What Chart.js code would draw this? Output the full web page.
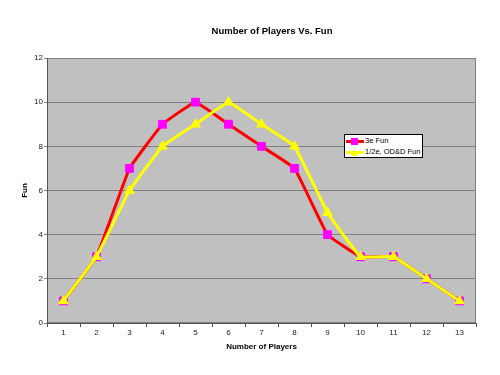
<!DOCTYPE html>
<html lang="en">
<head>
<meta charset="UTF-8">
<title>Number of Players Vs. Fun</title>
<script src="https://cdn.jsdelivr.net/npm/chart.js"></script>
<style>
    body {
        margin: 0;
        background: #fff;
        font-family: 'Liberation Sans', Arial, sans-serif;
    }
    .wrap {
        position: relative;
        width: 500px;
        height: 375px;
    }
    .title {
        position: absolute;
        left: 172px;
        width: 200px;
        top: 25px;
        text-align: center;
        font-size: 9.5px;
        font-weight: bold;
        color: #000;
    }
    .legend {
        position: absolute;
        left: 344px;
        top: 134px;
        width: 77px;
        height: 22px;
        background: #fff;
        border: 1px solid #000;
        font-size: 7.5px;
        color: #000;
    }
    .legend-row {
        position: relative;
        height: 10px;
        line-height: 10px;
        margin-top: 1px;
        padding-left: 20px;
        white-space: nowrap;
    }
    .legend-line {
        position: absolute;
        left: 1px;
        top: 4px;
        width: 18px;
        height: 3px;
    }
    .legend-mark {
        position: absolute;
        left: 6px;
        top: 2px;
        width: 7px;
        height: 7px;
    }
</style>
</head>
<body>
<div class="wrap">
    <canvas id="funChart" width="500" height="375"></canvas>
    <div class="title">Number of Players Vs. Fun</div>
    <div class="legend" id="legend"></div>
</div>

<script>
    const players = ['1', '2', '3', '4', '5', '6', '7', '8', '9', '10', '11', '12', '13'];
    const fun3e = [1, 3, 7, 9, 10, 9, 8, 7, 4, 3, 3, 2, 1];
    const funOdd = [1, 3, 6, 8, 9, 10, 9, 8, 5, 3, 3, 2, 1];
    const seriesNames = ['3e Fun', '1/2e, OD&D Fun'];

    // gray plot area like the old excel chart
    const plotBg = {
        id: 'plotBg',
        beforeDraw(chart) {
            const a = chart.chartArea;
            const ctx = chart.ctx;
            ctx.save();
            ctx.fillStyle = '#c0c0c0';
            ctx.fillRect(a.left, a.top, a.right - a.left, a.bottom - a.top);
            ctx.strokeStyle = '#808080';
            ctx.lineWidth = 1;
            ctx.strokeRect(a.left + 0.5, a.top + 0.5, a.right - a.left - 1, a.bottom - a.top - 1);
            ctx.restore();
        }
    };

    const ctx = document.getElementById('funChart').getContext('2d');
    const chart = new Chart(ctx, {
        type: 'line',
        data: {
            labels: players,
            datasets: [
                {
                    label: seriesNames[0],
                    data: fun3e,
                    borderColor: '#ff0000',
                    borderWidth: 3,
                    pointStyle: 'rect',
                    pointRadius: 5.5,
                    pointBackgroundColor: '#ff00ff',
                    pointBorderColor: '#ff00ff',
                    pointBorderWidth: 1,
                    tension: 0.08,
                    order: 1
                },
                {
                    label: seriesNames[1],
                    data: funOdd,
                    borderColor: '#ffff00',
                    borderWidth: 3,
                    pointStyle: 'triangle',
                    pointRadius: 5.5,
                    pointBackgroundColor: '#ffff00',
                    pointBorderColor: '#ffff00',
                    pointBorderWidth: 1,
                    tension: 0.08,
                    order: 0
                }
            ]
        },
        options: {
            responsive: false,
            animation: false,
            layout: {
                padding: { top: 58, right: 24, left: 0, bottom: 0 }
            },
            plugins: {
                legend: { display: false },
                tooltip: { enabled: false }
            },
            scales: {
                x: {
                    offset: true,
                    afterFit(scale) { scale.height = 52; },
                    grid: {
                        offset: true,
                        drawOnChartArea: false,
                        color: '#555',
                        tickLength: 4
                    },
                    border: { color: '#555', width: 1 },
                    ticks: {
                        color: '#222',
                        padding: 1,
                        font: { family: "'Liberation Sans', Arial", size: 8 }
                    },
                    title: {
                        display: true,
                        text: 'Number of Players',
                        color: '#000',
                        padding: { top: 0, bottom: 23 },
                        font: { family: "'Liberation Sans', Arial", size: 8, weight: 'bold' }
                    }
                },
                y: {
                    min: 0,
                    max: 12,
                    afterFit(scale) { scale.width = 47; },
                    grid: {
                        color: '#808080',
                        tickLength: 3
                    },
                    border: { color: '#555', width: 1 },
                    ticks: {
                        stepSize: 2,
                        color: '#222',
                        padding: 1,
                        font: { family: "'Liberation Sans', Arial", size: 8 }
                    },
                    title: {
                        display: true,
                        text: 'Fun',
                        color: '#000',
                        padding: { top: 20, bottom: 0 },
                        font: { family: "'Liberation Sans', Arial", size: 8, weight: 'bold' }
                    }
                }
            }
        },
        plugins: [plotBg]
    });

    // legend box drawn in html, same order as excel
    const legend = document.getElementById('legend');
    const marks = [
        { line: '#ff0000', mark: '#ff00ff', shape: 'square' },
        { line: '#ffff00', mark: '#ffff00', shape: 'triangle' }
    ];
    seriesNames.forEach((name, i) => {
        const row = document.createElement('div');
        row.className = 'legend-row';
        let markStyle = 'background:' + marks[i].mark + ';';
        if (marks[i].shape === 'triangle') {
            markStyle += 'clip-path: polygon(50% 0, 100% 100%, 0 100%);';
        }
        row.innerHTML = '<span class="legend-line" style="background:' + marks[i].line + '"></span>' +
            '<span class="legend-mark" style="' + markStyle + '"></span>' + name.replace('&', '&amp;');
        legend.appendChild(row);
    });
</script>
</body>
</html>
